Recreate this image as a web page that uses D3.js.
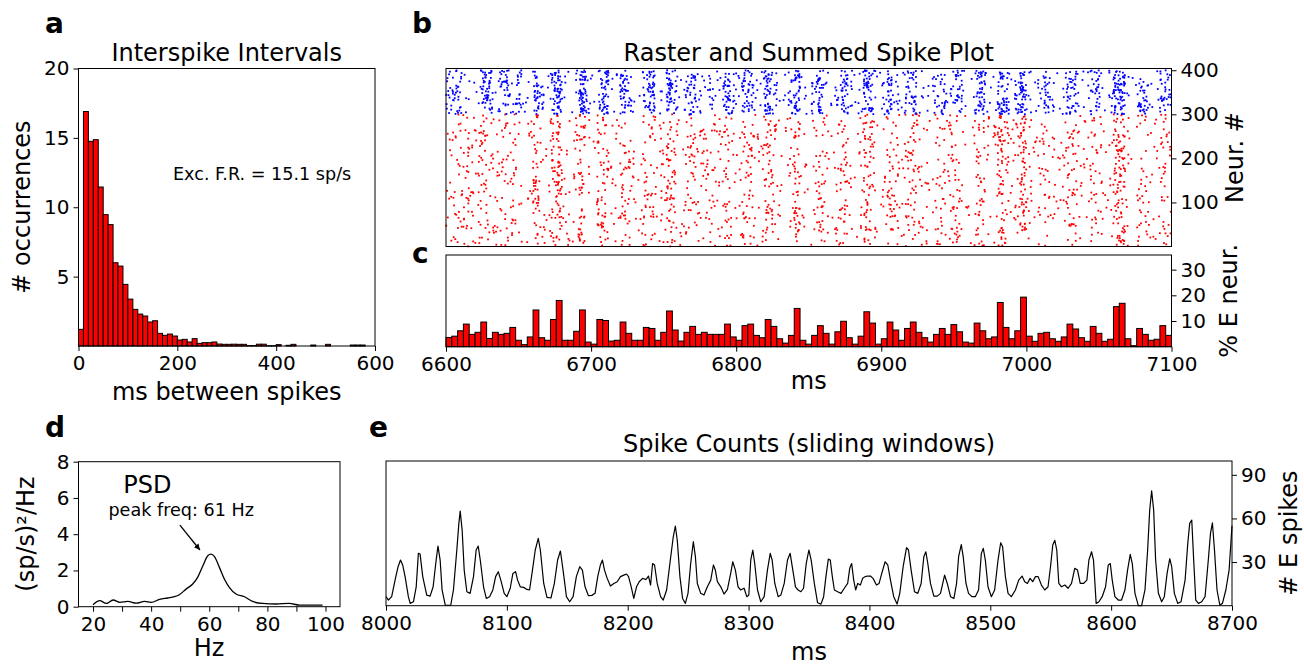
<!DOCTYPE html>
<html>
<head>
<meta charset="utf-8">
<script src="https://cdn.jsdelivr.net/npm/d3@7"></script>
<style>
  body { margin: 0; background: #fff; }
  svg { display: block; font-family: "DejaVu Sans", sans-serif; }
</style>
</head>
<body>
<svg id="fig" width="1304" height="667"></svg>
<script>
// ---- data ----
// a: interspike interval histogram, 10 ms bins from 0 to 600 ms
const isiCounts = [1.2, 16.9, 14.75, 14.87, 11.46, 9.47, 8.75, 6.0, 5.76, 4.44,
    3.38, 2.64, 2.3, 2.16, 1.73, 1.82, 0.91, 0.77, 0.86, 0.72,
    0.43, 0.48, 0.29, 0.53, 0.19, 0.24, 0.24, 0.29, 0.14, 0.12,
    0.12, 0.13, 0.12, 0.12, 0.03, 0.03, 0.13, 0.13, 0.02, 0.02,
    0.1, 0, 0.05, 0.12, 0, 0, 0, 0.07, 0, 0,
    0.12, 0, 0, 0, 0, 0.07, 0.07, 0.07, 0, 0];
const isiBinMs = 10;
const isiTicksX = [0, 200, 400, 600];
const isiTicksY = [5, 10, 15, 20];
const firingRateNote = "Exc. F.R. = 15.1 sp/s";

// b/c: 4 ms bins from 6600 to 7100 ms
const binStart = 6600, binMs = 4;
// % of E neurons spiking in each bin (panel c)
const pctE = [3.6, 4.1, 6.2, 8.8, 4.8, 5.6, 9.6, 3.2, 5.6, 4.8,
    5.2, 7.5, 2.5, 0.8, 3.8, 14.3, 3.5, 2.5, 10.6, 18.0,
    2.5, 2.5, 6.0, 14.3, 1.8, 1.0, 10.6, 10.2, 2.2, 2.5,
    9.6, 5.2, 2.5, 2.5, 7.5, 7.1, 2.5, 5.6, 13.9, 6.5,
    2.2, 5.6, 7.9, 4.8, 5.6, 4.8, 4.8, 4.8, 8.8, 3.8,
    2.5, 8.2, 8.8, 4.4, 3.5, 10.6, 7.9, 3.1, 1.4, 4.4,
    14.9, 2.5, 1.0, 4.4, 8.2, 5.2, 1.0, 5.8, 9.9, 3.5,
    1.0, 4.1, 13.6, 9.2, 1.0, 3.1, 9.6, 6.5, 2.5, 7.1,
    9.6, 5.6, 3.5, 1.8, 4.8, 7.1, 4.8, 8.6, 5.8, 1.8,
    1.4, 9.2, 6.2, 3.1, 3.8, 17.2, 7.5, 3.1, 6.2, 19.3,
    4.1, 2.1, 5.2, 5.6, 3.1, 2.1, 3.8, 8.8, 6.9, 3.5,
    2.1, 7.9, 5.2, 2.1, 2.9, 15.6, 16.9, 3.1, 0.4, 7.1,
    4.8, 2.5, 2.9, 8.2, 4.4];
// I-cell spikes per bin in the raster (estimated from dot density)
const countI = [14, 16, 14, 4, 2, 3, 24, 28, 3, 14,
    24, 4, 22, 3, 2, 28, 12, 2, 24, 38,
    3, 2, 6, 50, 12, 2, 14, 38, 3, 2,
    32, 14, 2, 4, 16, 36, 2, 3, 38, 14,
    2, 14, 28, 8, 3, 12, 4, 8, 32, 12,
    3, 22, 22, 4, 8, 36, 12, 2, 3, 14,
    38, 3, 2, 14, 32, 4, 2, 8, 28, 14,
    2, 8, 36, 16, 2, 8, 30, 8, 3, 16,
    24, 4, 3, 4, 12, 18, 4, 12, 22, 3,
    2, 22, 28, 4, 2, 30, 24, 2, 18, 40,
    6, 2, 8, 22, 8, 2, 8, 22, 18, 3,
    3, 14, 20, 2, 8, 32, 38, 3, 2, 16,
    18, 3, 3, 22, 12];
const nE = 300, nI = 100;
const rasterTicksY = [100, 200, 300, 400];
const sumTicksY = [10, 20, 30];
const timeTicks = [6600, 6700, 6800, 6900, 7000, 7100];

// d: power spectral density
const psdHz = [20, 22.3, 24.6, 26.9, 29.2, 32, 34.9, 37.7, 40, 42.9, 45.7, 48, 49.7, 52, 54.3, 56,
    57.8, 59.5, 60.6, 61.8, 63.5, 65.2, 66.9, 69.2, 72.1, 74.9, 78.4, 83, 87.5, 91, 95.5, 99];
const psdPow = [0.11, 0.33, 0.18, 0.37, 0.24, 0.29, 0.2, 0.29, 0.24, 0.4, 0.48, 0.55, 0.66, 0.97, 1.25, 1.62,
    2.26, 2.81, 2.9, 2.76, 2.17, 1.53, 1.07, 0.7, 0.55, 0.29, 0.18, 0.15, 0.18, 0.09, 0.09, 0.09];
const psdTicksX = [20, 30, 40, 50, 60, 70, 80, 90, 100];
const psdTicksY = [0, 2, 4, 6, 8];
const peakNote = "peak freq: 61 Hz";

// e: sliding-window E spike counts [ms, count]
const spikeCounts = [[8000,6.2],[8002,3.9],[8004.7,6.2],[8007.5,17.6],[8010,26.8],[8012,31.4],[8013.8,28],[8015.8,20],[8018.5,6.2],[8020,1.6],
    [8022.7,2.7],[8025,13],[8026.8,36],[8028.2,35.5],[8030.4,20],[8033.7,7.3],[8036.5,6.6],[8039,13],[8041.5,31.4],[8043,41],
    [8044.8,31.4],[8046.4,10.8],[8049,0.5],[8051.7,0.2],[8053.6,0.5],[8055.8,10.8],[8058.6,38.3],[8060.3,56.6],[8061.4,65],[8063,52],
    [8064.7,24.5],[8066.9,9.6],[8069.6,8.5],[8072.4,20],[8074.6,38.3],[8076.3,41],[8078,31.4],[8080.7,13],[8083,5],[8085.7,6.2],
    [8088.4,10.8],[8090.7,20],[8092.9,23.4],[8095,17.6],[8097.8,8.5],[8100,6.2],[8102.8,12],[8105,22.2],[8107.2,23.4],[8108.9,17.6],
    [8111.1,13],[8113.9,12.6],[8116.6,11.2],[8118.8,10.8],[8120.8,22.2],[8123.5,38.3],[8126,46.3],[8127.7,38.3],[8130.5,15.3],[8133.2,5.7],
    [8136.5,5.3],[8139.3,15.3],[8142,31.4],[8144.3,37.6],[8146.5,24.5],[8149.3,6.2],[8152,2.7],[8154.8,6.2],[8157.5,20],[8160.3,26.8],
    [8162.5,24.5],[8164.7,13],[8167.5,6.9],[8170.3,7.1],[8173,8.5],[8175.2,20],[8177.4,28],[8179.1,31.4],[8180.8,24.5],[8183,18.8],
    [8185.7,13.5],[8188.5,15.3],[8191.3,16.5],[8194,20],[8196.8,21],[8199,21.8],[8200.7,20],[8202.9,13],[8205,5],[8207.3,13],
    [8209.5,16.5],[8212.3,18.8],[8215,18],[8217.2,20.4],[8218.9,14.2],[8220.6,29],[8222.2,28],[8224.4,15.3],[8227.2,6.2],[8229.4,3.9],
    [8232.2,10.8],[8234.9,29],[8237.7,47.4],[8239.4,54.8],[8241,45],[8243.2,20],[8245.4,5],[8247.7,1.6],[8249.9,8.5],[8252.1,29],
    [8254.3,44],[8256,33.7],[8257.6,15.3],[8260.4,8.5],[8263.1,7.3],[8265.9,13],[8268.7,17.6],[8270.9,28],[8272.5,24.5],[8274.2,16.5],
    [8277,13],[8279.7,8],[8282.5,11.2],[8285.2,22.2],[8286.9,30.2],[8289.1,24.5],[8291.3,13],[8293.5,10.8],[8296.3,12],[8298.5,6.2],
    [8300.2,7.3],[8301.8,31.4],[8303.5,38.3],[8305.1,29],[8307.4,10.8],[8310.1,2.7],[8312.9,6.2],[8315.6,24.5],[8317.9,36],[8319.5,31.4],
    [8321.7,15.3],[8324.5,6.2],[8326.7,7.3],[8329.5,15.3],[8332.2,31.4],[8334.4,36],[8336.6,24.5],[8338.8,13],[8341,10.8],[8343.3,9.6],
    [8345.5,12],[8347.7,29],[8349.9,38.3],[8351.8,31.4],[8354.4,15.3],[8357.1,2],[8359.9,1.1],[8362.1,6.2],[8364,20],[8366,32],
    [8367.6,31.4],[8369.3,20],[8371,10.8],[8373.7,9.6],[8376.5,8.5],[8379.2,12],[8382,15.3],[8383.7,25.7],[8385.3,29],[8387,17.6],
    [8388.6,10.8],[8390.3,15.3],[8392.5,14.2],[8394.4,18.8],[8396.4,20],[8398.6,20.4],[8400.8,20.4],[8403,18.8],[8405.8,14.2],[8408,15.3],
    [8410.2,22.2],[8413,30.2],[8415.2,28],[8417.4,17.6],[8420.1,6.2],[8422.9,1.1],[8425.1,8.5],[8427.9,26.8],[8430.7,39.9],[8432.3,38.3],
    [8434.5,24.5],[8437.3,9.6],[8440,8.5],[8442.8,15.3],[8445,33.7],[8446.7,37.1],[8448.3,29],[8450.5,15.3],[8453.3,6.6],[8456.1,6.6],
    [8458.8,8.5],[8462.2,21],[8464.4,15.3],[8467.1,6.2],[8469.9,5],[8472.1,15.3],[8473.8,33.7],[8476,42],[8477.6,33.7],[8479.9,15.3],
    [8482,8.5],[8484.8,6.2],[8487.6,6.2],[8490.3,10.8],[8492.6,36],[8494.2,39.4],[8495.9,31.4],[8498.1,13],[8500.9,6.2],[8503.6,10.8],
    [8506.4,31.4],[8508.6,43.3],[8510.2,40.5],[8512.5,20],[8514.7,8.5],[8517.4,6.2],[8520.8,10.8],[8523.5,17.6],[8526.3,20.4],[8528.5,16.5],
    [8530.7,15.3],[8532.9,18.8],[8535.1,16.5],[8537.4,20],[8539.6,20],[8542.3,14.2],[8545.1,10.8],[8547.8,13],[8550,28],[8551.7,41.7],
    [8553.4,45],[8555,38.3],[8556.7,15.3],[8558.9,13],[8561.7,14.2],[8564.4,12],[8567.2,15.3],[8569.9,25.7],[8572.2,24.5],[8574.4,15.3],
    [8577.1,15.3],[8579.9,17.6],[8581.6,31.4],[8583.8,37.1],[8585.4,31.4],[8587.6,1.6],[8589.9,2.7],[8592.6,6.2],[8595.4,13],[8597.6,28],
    [8599.3,29],[8600.9,17.6],[8603.1,6.2],[8605.9,3.9],[8608.6,3.9],[8611.4,10.8],[8613.6,24.5],[8615.8,35.3],[8617.5,29],[8619.7,8.5],
    [8622.5,0],[8625.2,0],[8628,10.8],[8630.2,38.3],[8631.9,65.7],[8633.5,79],[8635.2,65.7],[8636.8,31.4],[8639.1,8.5],[8641.8,2.7],
    [8644,6.2],[8646.3,22.2],[8648.5,32.3],[8650.1,26.8],[8652.3,8.5],[8655.1,1.6],[8657.8,2.7],[8661.2,17.6],[8663.4,42.8],[8665,56.6],
    [8666.7,58.9],[8668.3,31.4],[8670,3.9],[8672.2,1.6],[8674.9,2.7],[8677.7,6.2],[8680.4,31.4],[8682.2,49.7],[8683.8,57],[8685.5,38.3],
    [8687.6,10.8],[8689.9,0.5],[8692.1,1.6],[8694.9,10.8],[8697.6,24.5],[8700,55]];
const countTicksX = [8000, 8100, 8200, 8300, 8400, 8500, 8600, 8700];
const countTicksY = [30, 60, 90];

// ---- layout ----
const svg = d3.select("#fig");
svg.append("rect").attr("width", 1304).attr("height", 667).attr("fill", "#fff");

const FONT = "DejaVu Sans";
const TICK = 20, LABEL = 24, NOTE = 17.6;
const fmt = d3.format("d");

const addAxis = function (gen, transform, size) {
    const g = svg.append("g").attr("transform", transform).call(gen);
    g.select(".domain").remove();
    g.attr("font-family", FONT).attr("font-size", size || TICK);
    g.selectAll("text").attr("fill", "#000");
    g.selectAll("line").attr("stroke", "#000");
    return g;
};

const frame = function (x, y) {
    svg.append("rect")
        .attr("x", x.range()[0]).attr("y", y.range()[1])
        .attr("width", x.range()[1] - x.range()[0])
        .attr("height", y.range()[0] - y.range()[1])
        .attr("fill", "none").attr("stroke", "#000").attr("stroke-width", 1);
};

const text = function (str, x, y, opts) {
    opts = opts || {};
    const t = svg.append("text")
        .attr("x", x).attr("y", y)
        .attr("font-family", FONT)
        .attr("font-size", opts.size || LABEL)
        .attr("font-weight", opts.weight || "normal")
        .attr("text-anchor", opts.anchor || "middle")
        .attr("fill", "#000")
        .text(str);
    if (opts.rotate) t.attr("transform", "rotate(" + opts.rotate + "," + x + "," + y + ")");
    return t;
};

// panel letters
text("a", 45, 33, {size: 28, weight: "bold", anchor: "start"});
text("b", 412, 33, {size: 28, weight: "bold", anchor: "start"});
text("c", 412, 263, {size: 28, weight: "bold", anchor: "start"});
text("d", 45, 437, {size: 28, weight: "bold", anchor: "start"});
text("e", 369, 437, {size: 28, weight: "bold", anchor: "start"});

// ---- a: ISI histogram ----
const xA = d3.scaleLinear().domain([0, 600]).range([78.5, 375]);
const yA = d3.scaleLinear().domain([0, 20]).range([346, 68.5]);
svg.append("g").selectAll("rect")
    .data(isiCounts.map((c, i) => ({x0: i * isiBinMs, c: c})).filter(d => d.c > 0))
    .enter().append("rect")
    .attr("x", d => xA(d.x0))
    .attr("y", d => yA(d.c))
    .attr("width", d => xA(d.x0 + isiBinMs) - xA(d.x0))
    .attr("height", d => yA(0) - yA(d.c))
    .attr("fill", "#ff0000").attr("stroke", "#000").attr("stroke-width", 1);
frame(xA, yA);
addAxis(d3.axisBottom(xA).tickValues(isiTicksX).tickFormat(fmt).tickSize(5).tickPadding(5), "translate(0,346)");
addAxis(d3.axisLeft(yA).tickValues(isiTicksY).tickFormat(fmt).tickSize(5).tickPadding(4), "translate(78.5,0)");
text("Interspike Intervals", 226.7, 61);
text("ms between spikes", 226.7, 400);
text("# occurrences", 30, 207, {rotate: -90});
text(firingRateNote, 173, 180, {size: NOTE, anchor: "start"});

// ---- b: raster ----
const xB = d3.scaleLinear().domain([6600, 7100]).range([446, 1171.5]);
const yB = d3.scaleLinear().domain([0, 404]).range([246.5, 68.5]);
// integer hash -> [0,1): places each binned spike inside its 4 ms bin and cell range
const hash01 = function (n, salt) {
    let h = Math.imul(n + 1, 374761393) ^ Math.imul(salt + 7, 668265263);
    h = Math.imul(h ^ (h >>> 13), 1274126177);
    h ^= h >>> 16;
    h = Math.imul(h ^ (h >>> 15), 2246822519);
    h ^= h >>> 13;
    return (h >>> 0) / 4294967296;
};
let seq = 0;
const spikes = [];
const spread = function (counts, first, size, color) {
    counts.forEach((n, k) => {
        for (let j = 0; j < n; j++, seq++) {
            spikes.push({
                t: binStart + binMs * k + binMs * hash01(seq, 1),
                cell: first + size * hash01(seq, 2),
                color: color
            });
        }
    });
};
spread(pctE.map(p => Math.round(p * nE / 100)), 0, nE, "#ff0000");
spread(countI, nE, nI, "#0000ff");
svg.append("g").selectAll("rect")
    .data(spikes)
    .enter().append("rect")
    .attr("x", d => xB(d.t) - 0.9)
    .attr("y", d => yB(d.cell) - 0.9)
    .attr("width", 1.8).attr("height", 1.8)
    .attr("fill", d => d.color);
frame(xB, yB);
addAxis(d3.axisRight(yB).tickValues(rasterTicksY).tickFormat(fmt).tickSize(5).tickPadding(4), "translate(1171.5,0)");
text("Raster and Summed Spike Plot", 808.8, 61);
text("Neur. #", 1243, 157.5, {rotate: -90});

// ---- c: summed spikes ----
const yC = d3.scaleLinear().domain([0, 35.7]).range([346.7, 255]);
svg.append("g").selectAll("rect")
    .data(pctE.map((p, k) => ({t: binStart + binMs * k, p: p})))
    .enter().append("rect")
    .attr("x", d => xB(d.t))
    .attr("y", d => yC(d.p))
    .attr("width", d => xB(d.t + binMs) - xB(d.t))
    .attr("height", d => yC(0) - yC(d.p))
    .attr("fill", "#ff0000").attr("stroke", "#000").attr("stroke-width", 1);
frame(xB, yC);
addAxis(d3.axisBottom(xB).tickValues(timeTicks).tickFormat(fmt).tickSize(5).tickPadding(5), "translate(0,346.7)");
addAxis(d3.axisRight(yC).tickValues(sumTicksY).tickFormat(fmt).tickSize(5).tickPadding(4), "translate(1171.5,0)");
text("ms", 808.8, 389);
text("% E neur.", 1237, 300.8, {rotate: -90});

// ---- d: PSD ----
const xD = d3.scaleLinear().domain([15, 105]).range([78.5, 340]);
const yD = d3.scaleLinear().domain([0, 8]).range([606.7, 461.7]);
svg.append("path")
    .datum(psdHz.map((h, i) => [h, psdPow[i]]))
    .attr("d", d3.line().x(d => xD(d[0])).y(d => yD(d[1])).curve(d3.curveMonotoneX))
    .attr("fill", "none").attr("stroke", "#000").attr("stroke-width", 1.3);
frame(xD, yD);
addAxis(d3.axisBottom(xD).tickValues(psdTicksX).tickSize(5).tickPadding(5)
    .tickFormat(d => d % 20 === 0 ? d : ""), "translate(0,606.7)");
addAxis(d3.axisLeft(yD).tickValues(psdTicksY).tickFormat(fmt).tickSize(5).tickPadding(4), "translate(78.5,0)");
text("Hz", 209, 656);
text("(sp/s)\u00B2/Hz", 34, 534, {rotate: -90});
text("PSD", xD(30.4), yD(6.26), {anchor: "start"});
text(peakNote, xD(25.3), yD(5.0), {size: NOTE, anchor: "start"});
svg.append("defs").append("marker")
    .attr("id", "head").attr("viewBox", "0 0 10 10")
    .attr("refX", 10).attr("refY", 5)
    .attr("markerWidth", 6).attr("markerHeight", 6)
    .attr("markerUnits", "userSpaceOnUse").attr("orient", "auto")
    .append("path").attr("d", "M0,0L10,5L0,10z").attr("fill", "#000");
svg.append("line")
    .attr("x1", xD(49.9)).attr("y1", yD(4.5))
    .attr("x2", xD(56.8)).attr("y2", yD(3.13))
    .attr("stroke", "#000").attr("stroke-width", 1.3)
    .attr("marker-end", "url(#head)");

// ---- e: spike counts ----
const xE = d3.scaleLinear().domain([8000, 8700]).range([386, 1232]);
const yE = d3.scaleLinear().domain([0, 99.5]).range([605.7, 461]);
svg.append("path")
    .datum(spikeCounts)
    .attr("d", d3.line().x(d => xE(d[0])).y(d => yE(d[1])))
    .attr("fill", "none").attr("stroke", "#000").attr("stroke-width", 1.2)
    .attr("stroke-linejoin", "round");
frame(xE, yE);
addAxis(d3.axisBottom(xE).tickValues(countTicksX).tickFormat(fmt).tickSize(5).tickPadding(5), "translate(0,605.7)");
addAxis(d3.axisRight(yE).tickValues(countTicksY).tickFormat(fmt).tickSize(5).tickPadding(4), "translate(1232,0)");
text("Spike Counts (sliding windows)", 809, 452);
text("ms", 809, 660);
text("# E spikes", 1297, 533, {rotate: -90});
</script>
</body>
</html>
